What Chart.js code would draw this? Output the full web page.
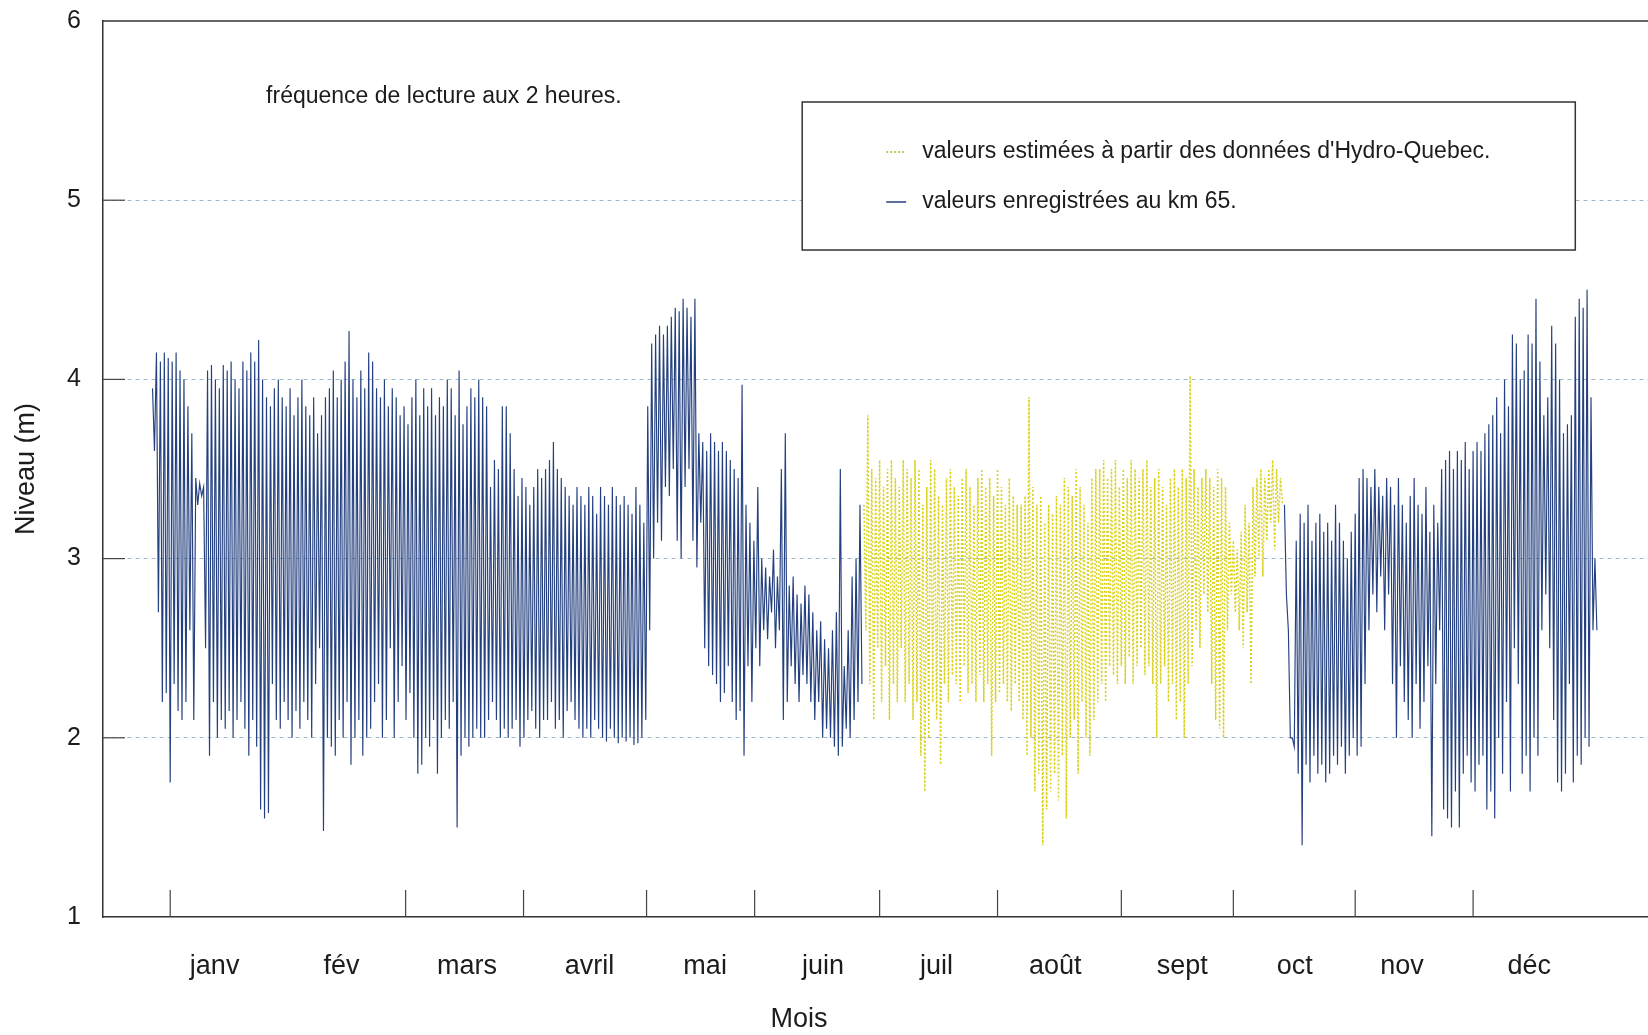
<!DOCTYPE html>
<html>
<head>
<meta charset="utf-8">
<script src="https://cdn.jsdelivr.net/npm/chart.js@4.4.0/dist/chart.umd.min.js"></script>
<style>
  body { margin: 0; background: #fff; }
  #graphe { display: block; }
</style>
</head>
<body>
<canvas id="graphe" width="1648" height="1035"></canvas>
<script>
// mois et positions (en jours depuis le 1er janvier)
var mois = ['janv', 'fév', 'mars', 'avril', 'mai', 'juin', 'juil', 'août', 'sept', 'oct', 'nov', 'déc'];
var positionsMois = [15.8, 48.1, 80, 111.2, 140.6, 170.6, 199.5, 229.7, 262, 290.6, 317.9, 350.3];
var reperesX = [4.5, 64.4, 94.4, 125.7, 153.2, 185, 215, 246.5, 275, 306, 336];
var niveauxY = [1, 2, 3, 4, 5, 6];

// valeurs enregistrées au km 65 : jours 0 à 180 (pleine mer / basse mer par jour)
var debutJanJuin = 0;
var hautesJanJuin = [
    3.95, 4.15, 4.1, 4.15, 4.12, 4.1, 4.15, 4.05, 4.0, 3.85,
    3.7, 3.45, 3.42, 3.4, 4.05, 4.08, 4.0, 3.95, 4.08, 4.05,
    4.1, 4.0, 3.95, 4.1, 4.05, 4.15, 4.1, 4.22, 4.0, 3.9,
    3.85, 3.95, 4.0, 3.9, 3.85, 3.95, 3.8, 3.9, 4.0, 3.85,
    3.8, 3.9, 3.7, 3.8, 3.9, 3.95, 4.05, 3.9, 4.0, 4.1,
    4.27, 4.0, 3.9, 4.05, 3.95, 4.15, 4.1, 3.95, 3.9, 4.0,
    3.85, 3.95, 3.9, 3.8, 3.85, 3.75, 3.9, 4.0, 3.8, 3.95,
    3.85, 3.95, 3.8, 3.9, 3.85, 4.0, 3.95, 3.8, 4.05, 3.75,
    3.85, 3.95, 3.9, 4.0, 3.9, 3.85, 3.4, 3.55, 3.5, 3.85,
    3.85, 3.7, 3.5, 3.35, 3.45, 3.4, 3.3, 3.4, 3.5, 3.45,
    3.5, 3.55, 3.65, 3.5, 3.45, 3.4, 3.35, 3.3, 3.4, 3.35,
    3.3, 3.4, 3.35, 3.25, 3.4, 3.35, 3.3, 3.4, 3.35, 3.3,
    3.35, 3.3, 3.25, 3.4, 3.3, 3.2, 3.85, 4.2, 4.25, 4.3,
    4.25, 4.3, 4.35, 4.4, 4.38, 4.45, 4.4, 4.35, 4.45, 3.7,
    3.65, 3.6, 3.7, 3.65, 3.6, 3.65, 3.6, 3.55, 3.5, 3.45,
    3.97, 3.3, 3.2, 3.1, 3.4, 3.0, 2.95, 2.9, 3.05, 2.9,
    3.5, 3.7, 2.85, 2.9, 2.8, 2.75, 2.85, 2.8, 2.7, 2.6,
    2.65, 2.55, 2.5, 2.6, 2.7, 3.5, 2.4, 2.6, 2.9, 3.0,
    3.3
];
var bassesJanJuin = [
    3.6, 2.7, 2.2, 2.25, 1.75, 2.3, 2.15, 2.1, 2.2, 2.6,
    2.1, 3.3, 3.35, 2.5, 1.9, 2.2, 2.0, 2.1, 2.05, 2.15,
    2.0, 2.1, 2.2, 2.05, 1.9, 2.1, 1.95, 1.6, 1.55, 1.58,
    2.3, 2.1, 2.05, 2.2, 2.1, 2.0, 2.15, 2.05, 2.2, 2.1,
    2.0, 2.3, 2.5, 1.48, 2.0, 1.95, 1.9, 2.1, 2.0, 2.2,
    1.85, 2.0, 2.1, 1.9, 2.0, 2.05, 2.2, 2.3, 2.0, 2.1,
    2.5, 2.0, 2.2, 2.4, 2.1, 2.25, 2.0, 1.8, 1.85, 2.0,
    1.95, 2.1, 1.8, 2.0, 2.1, 2.05, 2.2, 1.5, 1.9, 2.0,
    1.95, 2.0, 2.05, 2.0, 2.0, 2.1, 2.2, 2.1, 2.0, 2.05,
    2.0, 2.05, 2.1, 1.95, 2.0, 2.1, 2.15, 2.05, 2.0, 2.1,
    2.1, 2.2, 2.05, 2.1, 2.0, 2.15, 2.2, 2.1, 2.05, 2.0,
    2.05, 2.0, 2.1, 2.05, 2.0, 1.98, 2.05, 2.0, 1.97, 2.0,
    1.98, 2.0, 1.96, 1.97, 2.0, 2.1, 2.6, 3.0, 3.2, 3.1,
    3.4, 3.35, 3.5, 3.1, 3.0, 3.4, 3.5, 3.1, 2.95, 3.2,
    2.5, 2.4, 2.35, 2.3, 2.2, 2.25, 2.4, 2.2, 2.1, 2.15,
    1.9, 2.4, 2.2, 2.5, 2.4, 2.6, 2.55, 2.7, 2.5, 2.6,
    2.1, 2.2, 2.4, 2.3, 2.2, 2.35, 2.3, 2.2, 2.1, 2.2,
    2.0, 2.05, 2.0, 1.95, 1.9, 1.95, 2.05, 2.0, 2.1, 2.2,
    2.3
];

// valeurs estimées (Hydro-Québec) : jours 181 à 287
var debutEst = 181;
var hautesEst = [
    3.3, 3.8, 3.5, 3.45, 3.55, 3.4, 3.5, 3.55, 3.45, 3.4,
    3.55, 3.5, 3.45, 3.55, 3.5, 3.3, 3.4, 3.55, 3.5, 3.35,
    3.3, 3.45, 3.5, 3.4, 3.35, 3.45, 3.5, 3.4, 3.3, 3.45,
    3.5, 3.4, 3.45, 3.35, 3.5, 3.4, 3.3, 3.45, 3.35, 3.3,
    3.3, 3.35, 3.9, 3.4, 3.3, 3.35, 3.2, 3.3, 3.25, 3.35,
    3.3, 3.45, 3.4, 3.35, 3.5, 3.4, 3.3, 3.2, 3.45, 3.5,
    3.5, 3.55, 3.45, 3.5, 3.55, 3.4, 3.5, 3.45, 3.55, 3.5,
    3.45, 3.5, 3.55, 3.4, 3.45, 3.5, 3.4, 3.3, 3.45, 3.5,
    3.4, 3.5, 3.45, 4.02, 3.5, 3.4, 3.45, 3.5, 3.45, 3.4,
    3.5, 3.45, 3.4, 3.2, 3.1, 3.05, 3.15, 3.3, 3.2, 3.4,
    3.45, 3.5, 3.45, 3.5, 3.55, 3.5, 3.45
];
var bassesEst = [
    2.6, 2.3, 2.1, 2.5, 2.2, 2.4, 2.1, 2.3, 2.2, 2.5,
    2.2, 2.3, 2.1, 2.2, 1.9, 1.7, 2.0, 2.2, 2.1, 1.85,
    2.3, 2.2, 2.35, 2.3, 2.2, 2.4, 2.25, 2.3, 2.2, 2.35,
    2.2, 2.3, 1.9, 2.2, 2.25, 2.3, 2.2, 2.15, 2.3, 2.2,
    2.1, 1.9, 2.0, 1.7, 1.8, 1.4, 1.6, 1.7, 1.8, 1.65,
    1.9, 1.55, 2.0, 2.1, 1.8, 2.2, 2.0, 1.9, 2.1, 2.2,
    2.3, 2.2, 2.4, 2.35, 2.3, 2.4, 2.3, 2.45, 2.3, 2.4,
    2.5, 2.35, 2.4, 2.3, 2.0, 2.3, 2.4, 2.2, 2.3, 2.1,
    2.2, 2.0, 2.3, 2.4, 2.6, 2.5, 2.8, 2.7, 2.3, 2.1,
    2.05, 2.0, 2.6, 2.8, 2.7, 2.6, 2.5, 2.7, 2.3, 2.9,
    3.0, 2.9, 3.1, 3.2, 3.05, 3.2, 3.3
];

// valeurs enregistrées au km 65 : jours 288 à 367
var debutOctDec = 288;
var hautesOctDec = [
    3.3, 2.6, 2.0, 3.1, 3.25, 3.2, 3.3, 3.1, 3.2, 3.25,
    3.15, 3.2, 3.1, 3.3, 3.2, 3.1, 3.0, 3.15, 3.25, 3.45,
    3.5, 3.45, 3.4, 3.5, 3.4, 3.35, 3.45, 3.4, 3.3, 3.45,
    3.3, 3.2, 3.35, 3.45, 3.3, 3.25, 3.4, 3.15, 3.3, 3.2,
    3.5, 3.55, 3.6, 3.5, 3.6, 3.55, 3.65, 3.5, 3.6, 3.65,
    3.6, 3.7, 3.75, 3.8, 3.9, 3.7, 4.0, 3.85, 4.25, 4.2,
    4.0, 4.05, 4.25, 4.2, 4.45, 4.1, 3.8, 3.9, 4.3, 4.2,
    4.0, 3.7, 3.75, 3.8, 4.35, 4.45, 4.4, 4.5, 3.9, 3.0
];
var bassesOctDec = [
    2.8, 2.0, 1.95, 1.8, 1.4, 1.85, 1.75, 1.9, 1.8, 1.85,
    1.75, 1.8, 1.9, 1.85, 1.95, 1.8, 1.9, 2.0, 1.9, 1.95,
    2.3, 2.6, 2.8, 2.7, 2.9, 2.6, 2.8, 2.3, 2.0, 2.4,
    2.2, 2.1, 2.0, 2.3, 2.05, 2.2, 2.4, 1.45, 2.3, 2.6,
    1.6, 1.55, 1.5, 1.7, 1.5, 1.8, 1.9, 1.75, 1.7, 1.85,
    1.9, 1.6, 1.7, 1.55, 2.0, 1.8, 2.2, 1.7, 2.5, 2.3,
    1.8, 1.9, 1.7, 2.0, 1.9, 2.6, 2.8, 2.5, 2.1, 1.75,
    1.7, 1.8, 2.3, 1.75, 1.9, 1.85, 2.0, 1.95, 2.6, 2.6
];

// pleine mer au jour j, basse mer a j + 0.5
function serie(debut, hautes, basses) {
    var pts = [];
    for (var i = 0; i < hautes.length; i++) {
        pts.push({ x: debut + i, y: hautes[i] });
        pts.push({ x: debut + i + 0.5, y: basses[i] });
    }
    return pts;
}

var bleu = '#24407f';
var jaune = '#d9d11c';
var texte = '#1c1c1c';
var police = '"Liberation Sans", Arial, Helvetica, sans-serif';

// dessins en plus : repères, cadre du haut, légende, annotations
var decor = {
    id: 'decor',
    afterDraw: function (chart) {
        var ctx = chart.ctx;
        var sx = chart.scales.x;
        var sy = chart.scales.y;
        var aire = chart.chartArea;
        ctx.save();

        // cadre du haut
        ctx.strokeStyle = '#333';
        ctx.lineWidth = 1.5;
        ctx.beginPath();
        ctx.moveTo(aire.left, sy.getPixelForValue(6));
        ctx.lineTo(aire.right, sy.getPixelForValue(6));
        ctx.stroke();

        // petits repères vers l'intérieur
        ctx.lineWidth = 1.2;
        ctx.strokeStyle = '#444';
        for (var i = 0; i < reperesX.length; i++) {
            var px = sx.getPixelForValue(reperesX[i]);
            ctx.beginPath();
            ctx.moveTo(px, aire.bottom);
            ctx.lineTo(px, aire.bottom - 27);
            ctx.stroke();
        }
        for (var j = 1; j < niveauxY.length - 1; j++) {
            var py = sy.getPixelForValue(niveauxY[j]);
            ctx.beginPath();
            ctx.moveTo(aire.left, py);
            ctx.lineTo(aire.left + 22, py);
            ctx.stroke();
        }

        // légende
        var gx = sx.getPixelForValue(165.3), dx = sx.getPixelForValue(362);
        var hy = sy.getPixelForValue(5.548), by = sy.getPixelForValue(4.722);
        ctx.fillStyle = '#fff';
        ctx.fillRect(gx, hy, dx - gx, by - hy);
        ctx.strokeStyle = '#333';
        ctx.lineWidth = 1.5;
        ctx.strokeRect(gx, hy, dx - gx, by - hy);

        ctx.font = '23px ' + police;
        ctx.fillStyle = texte;
        ctx.textBaseline = 'middle';
        ctx.textAlign = 'left';
        var l1 = hy + 50, l2 = hy + 100;
        ctx.setLineDash([2, 2]);
        ctx.strokeStyle = '#b8b02c';
        ctx.lineWidth = 1.5;
        ctx.beginPath();
        ctx.moveTo(gx + 84, l1);
        ctx.lineTo(gx + 104, l1);
        ctx.stroke();
        ctx.setLineDash([]);
        ctx.strokeStyle = bleu;
        ctx.beginPath();
        ctx.moveTo(gx + 84, l2);
        ctx.lineTo(gx + 104, l2);
        ctx.stroke();
        ctx.fillText("valeurs estimées à partir des données d'Hydro-Quebec.", gx + 120, l1);
        ctx.fillText('valeurs enregistrées au km 65.', gx + 120, l2);

        // annotation
        ctx.fillText('fréquence de lecture aux 2 heures.', sx.getPixelForValue(28.9), sy.getPixelForValue(5.576));

        // titre de l'axe x
        ctx.font = '27px ' + police;
        ctx.textAlign = 'center';
        ctx.fillText('Mois', sx.getPixelForValue(164.5), aire.bottom + 103);
        ctx.restore();
    }
};

var ctx = document.getElementById('graphe').getContext('2d');
var monGraphe = new Chart(ctx, {
    type: 'line',
    data: {
        datasets: [
            {
                label: 'valeurs enregistrées au km 65.',
                data: serie(debutJanJuin, hautesJanJuin, bassesJanJuin),
                borderColor: bleu,
                borderWidth: 1.15,
                pointRadius: 0,
                tension: 0
            },
            {
                label: "valeurs estimées à partir des données d'Hydro-Quebec.",
                data: serie(debutEst, hautesEst, bassesEst),
                borderColor: jaune,
                borderWidth: 1.5,
                borderDash: [2, 2],
                pointRadius: 0,
                tension: 0
            },
            {
                label: 'valeurs enregistrées au km 65.',
                data: serie(debutOctDec, hautesOctDec, bassesOctDec),
                borderColor: bleu,
                borderWidth: 1.15,
                pointRadius: 0,
                tension: 0
            }
        ]
    },
    options: {
        responsive: false,
        animation: false,
        devicePixelRatio: 1,
        layout: { padding: { top: 21, right: 0, left: 0, bottom: 0 } },
        plugins: {
            legend: { display: false },
            tooltip: { enabled: false }
        },
        scales: {
            x: {
                type: 'linear',
                min: -12.6,
                max: 380.5,
                afterBuildTicks: function (scale) {
                    scale.ticks = positionsMois.map(function (v) { return { value: v }; });
                },
                afterFit: function (scale) {
                    scale.height = 118;
                    scale.paddingLeft = 0;
                    scale.paddingRight = 0;
                },
                ticks: {
                    autoSkip: false,
                    maxRotation: 0,
                    padding: 33,
                    color: texte,
                    font: { family: police, size: 27 },
                    callback: function (v, i) { return mois[i]; }
                },
                grid: { display: false, drawTicks: false },
                border: { display: true, color: '#333', width: 1.5 }
            },
            y: {
                min: 1,
                max: 6,
                afterBuildTicks: function (scale) {
                    scale.ticks = niveauxY.map(function (v) { return { value: v }; });
                },
                afterFit: function (scale) {
                    scale.width = 103;
                    scale.paddingTop = 0;
                    scale.paddingBottom = 0;
                },
                ticks: {
                    padding: 22,
                    color: texte,
                    font: { family: police, size: 25 }
                },
                grid: {
                    drawTicks: false,
                    color: function (c) {
                        return (c.tick && (c.tick.value === 1 || c.tick.value === 6)) ? 'rgba(0,0,0,0)' : '#9db8cb';
                    },
                    lineWidth: 1
                },
                border: { display: true, color: '#333', width: 1.5, dash: [4, 4] },
                title: {
                    display: true,
                    text: 'Niveau (m)',
                    color: texte,
                    font: { family: police, size: 27 },
                    padding: { top: 10, bottom: 0 }
                }
            }
        }
    },
    plugins: [decor]
});
</script>
</body>
</html>
